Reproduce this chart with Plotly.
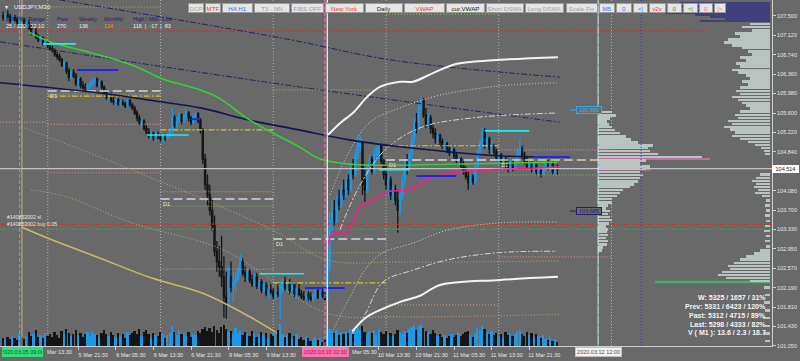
import plotly.graph_objects as go

# ------------------------------------------------------------------ data
first_bar = -16  # bar index of first candle (0 = 5 Mar 13:30, M30 bars)

bar_open = [
 107.50,107.46,107.52,107.48,107.40,107.46,107.42,107.36,107.44,107.40,107.34,
 107.36,107.26,107.16,107.20,107.08,107.02,107.06,106.96,106.98,106.90,
 106.86,106.82,106.74,106.70,106.64,106.54,106.58,106.42,106.30,106.40,
 106.32,106.18,106.26,106.14,106.10,106.08,106.12,106.18,106.22,106.26,
 106.14,106.20,106.10,106.00,105.90,105.96,105.84,105.82,105.86,105.78,
 105.80,105.78,105.74,105.84,105.76,105.70,105.60,105.50,105.40,105.44,
 105.30,105.22,105.16,105.20,105.12,105.18,105.12,105.10,105.14,105.10,
 105.16,105.26,105.50,105.36,105.48,105.56,105.44,105.54,105.60,105.50,
 105.42,105.54,105.58,105.46,105.26,104.70,104.20,104.00,103.70,103.40,
 102.90,102.70,102.60,102.40,102.00,101.90,102.40,102.20,102.30,102.36,
 102.50,102.70,102.48,102.40,102.50,102.34,102.26,102.40,102.22,102.30,
 102.14,102.24,102.08,102.14,102.10,102.02,102.10,102.06,102.22,102.30,
 102.18,102.28,102.14,102.24,102.08,102.16,102.06,102.02,101.98,102.06,
 102.00,101.96,102.04,102.12,102.00,102.10,102.02,101.96,102.60,103.50,
 103.70,103.50,103.90,103.80,104.10,104.00,104.30,104.10,104.50,104.40,
 104.80,104.96,105.00,104.30,104.10,104.50,104.70,104.46,104.80,104.76,
 104.96,104.66,104.40,104.20,104.30,104.00,104.10,103.90,103.70,104.00,
 104.30,104.60,104.50,104.80,105.10,105.40,105.30,105.70,105.84,105.56,
 105.40,105.50,105.30,105.20,105.10,105.16,105.04,104.96,105.00,104.90,
 104.82,104.88,104.76,104.66,104.70,104.56,104.46,104.36,104.24,104.34,
 104.26,104.56,104.84,105.00,105.24,105.00,105.10,104.90,104.96,104.84,
 104.72,104.78,104.64,104.70,104.58,104.52,104.64,104.54,104.66,104.84,
 104.90,104.76,104.66,104.56,104.60,104.50,104.58,104.46,104.50,104.42,
 104.50,104.60,104.56,104.60,104.46,104.52,
]
bar_high = [
 107.58,107.56,107.60,107.54,107.50,107.52,107.48,107.46,107.50,107.46,107.42,
 107.42,107.32,107.24,107.26,107.14,107.10,107.10,107.02,107.00,106.96,
 106.92,106.86,106.80,106.76,106.68,106.62,106.60,106.48,106.44,106.46,
 106.38,106.30,106.30,106.22,106.18,106.16,106.22,106.26,106.30,106.30,
 106.24,106.24,106.14,106.06,106.00,106.00,105.92,105.90,105.90,105.86,
 105.86,105.82,105.88,105.88,105.80,105.74,105.66,105.56,105.48,105.48,
 105.36,105.30,105.26,105.24,105.22,105.24,105.20,105.18,105.20,105.20,
 105.30,105.70,105.56,105.52,105.62,105.60,105.58,105.66,105.64,105.54,
 105.58,105.62,105.62,105.50,105.30,104.80,104.40,104.20,103.90,103.60,
 103.10,103.00,103.20,102.80,102.50,102.60,102.70,102.50,102.50,102.60,
 102.84,102.76,102.60,102.56,102.56,102.44,102.46,102.48,102.34,102.36,
 102.30,102.30,102.20,102.26,102.18,102.16,102.28,102.32,102.36,102.40,
 102.34,102.36,102.30,102.30,102.20,102.26,102.14,102.12,102.10,102.12,
 102.10,102.08,102.16,102.18,102.14,102.16,102.10,102.70,103.66,103.90,
 103.90,104.00,104.10,104.20,104.30,104.40,104.40,104.60,104.70,104.90,
 105.10,105.16,105.04,104.50,104.60,104.80,104.76,104.90,105.00,105.04,
 105.00,104.70,104.60,104.40,104.36,104.20,104.20,104.10,104.10,104.40,
 104.70,104.80,104.90,105.20,105.50,105.60,105.80,105.92,105.90,105.70,
 105.60,105.56,105.40,105.30,105.24,105.20,105.10,105.06,105.04,104.96,
 104.94,104.92,104.84,104.76,104.74,104.66,104.56,104.46,104.40,104.40,
 104.60,104.90,105.10,105.33,105.30,105.20,105.14,105.06,105.00,104.90,
 104.84,104.82,104.76,104.74,104.66,104.70,104.68,104.70,104.90,105.10,
 104.96,104.84,104.76,104.66,104.66,104.64,104.62,104.56,104.54,104.56,
 104.66,104.68,104.64,104.66,104.56,104.60,
]
bar_low = [
 107.40,107.42,107.44,107.36,107.34,107.38,107.32,107.30,107.36,107.30,107.28,
 107.22,107.12,107.08,107.04,106.98,106.96,106.92,106.88,106.86,106.82,
 106.78,106.70,106.64,106.60,106.50,106.46,106.36,106.22,106.26,106.28,
 106.12,106.10,106.08,106.04,106.02,106.02,106.08,106.12,106.16,106.10,
 106.10,106.06,105.96,105.86,105.84,105.80,105.76,105.74,105.74,105.72,
 105.74,105.70,105.72,105.72,105.66,105.56,105.44,105.36,105.30,105.26,
 105.16,105.10,105.08,105.06,105.04,105.08,105.04,105.02,105.06,105.06,
 105.12,105.20,105.30,105.30,105.40,105.38,105.40,105.48,105.44,105.36,
 105.38,105.46,105.40,105.20,104.60,104.10,103.80,103.60,103.30,102.80,
 102.50,102.40,102.20,101.60,101.58,101.80,102.10,101.90,102.10,102.30,
 102.46,102.42,102.30,102.30,102.28,102.20,102.22,102.16,102.10,102.08,
 102.08,102.02,101.98,102.06,101.96,101.94,102.00,101.56,102.10,102.12,
 102.10,102.06,102.04,102.00,101.98,102.02,101.96,101.94,101.92,101.94,
 101.92,101.90,101.98,101.96,101.94,101.98,101.90,101.94,102.50,103.30,
 103.40,103.44,103.70,103.74,103.90,103.96,104.00,104.06,104.30,104.36,
 104.70,104.84,104.00,103.86,104.04,104.40,104.40,104.40,104.66,104.70,
 104.60,104.30,104.10,104.00,103.90,103.84,103.80,103.26,103.60,103.90,
 104.20,104.40,104.46,104.70,105.00,105.20,105.26,105.60,105.50,105.30,
 105.30,105.20,105.10,105.00,105.00,104.96,104.90,104.84,104.82,104.76,
 104.74,104.70,104.60,104.56,104.50,104.40,104.30,104.10,104.20,104.20,
 104.22,104.50,104.76,104.96,104.90,104.90,104.80,104.80,104.76,104.66,
 104.60,104.56,104.56,104.50,104.44,104.46,104.46,104.50,104.60,104.74,
 104.70,104.60,104.50,104.46,104.44,104.42,104.40,104.36,104.34,104.38,
 104.46,104.48,104.46,104.40,104.36,104.40,
]
bar_close = [
 107.46,107.52,107.48,107.40,107.46,107.42,107.36,107.44,107.40,107.34,107.36,
 107.26,107.16,107.20,107.08,107.02,107.06,106.96,106.98,106.90,106.86,
 106.82,106.74,106.70,106.64,106.54,106.58,106.42,106.30,106.40,106.32,
 106.18,106.26,106.14,106.10,106.08,106.12,106.18,106.22,106.26,106.14,
 106.20,106.10,106.00,105.90,105.96,105.84,105.82,105.86,105.78,105.80,
 105.78,105.74,105.84,105.76,105.70,105.60,105.50,105.40,105.44,105.30,
 105.22,105.16,105.20,105.12,105.18,105.12,105.10,105.14,105.10,105.16,
 105.26,105.50,105.36,105.48,105.56,105.44,105.54,105.60,105.50,105.42,
 105.54,105.58,105.46,105.26,104.70,104.20,104.00,103.70,103.40,102.90,
 102.70,102.60,102.40,102.00,101.90,102.40,102.20,102.30,102.36,102.50,
 102.70,102.48,102.40,102.50,102.34,102.26,102.40,102.22,102.30,102.14,
 102.24,102.08,102.14,102.10,102.02,102.10,102.06,102.22,102.30,102.18,
 102.28,102.14,102.24,102.08,102.16,102.06,102.02,101.98,102.06,102.00,
 101.96,102.04,102.12,102.00,102.10,102.02,101.96,102.60,103.50,103.70,
 103.50,103.90,103.80,104.10,104.00,104.30,104.10,104.50,104.40,104.80,
 105.00,105.10,104.20,104.10,104.50,104.70,104.46,104.80,104.94,104.96,
 104.66,104.40,104.20,104.30,104.00,104.10,103.90,103.70,104.00,104.30,
 104.60,104.50,104.80,105.10,105.40,105.30,105.70,105.84,105.56,105.40,
 105.50,105.30,105.20,105.10,105.16,105.04,104.96,105.00,104.90,104.82,
 104.88,104.76,104.66,104.70,104.56,104.46,104.36,104.24,104.34,104.26,
 104.56,104.84,105.00,105.24,105.00,105.10,104.90,104.96,104.84,104.72,
 104.78,104.64,104.70,104.58,104.52,104.64,104.54,104.66,104.84,104.90,
 104.76,104.66,104.56,104.60,104.50,104.58,104.46,104.50,104.42,104.50,
 104.60,104.56,104.60,104.46,104.52,104.51,
]
bar_volume = [
 8,6,9,7,10,8,6,12,9,7,10,
 14,10,12,16,9,11,8,13,10,12,
 9,14,11,8,15,12,17,13,10,12,
 16,11,13,9,12,14,10,15,12,11,
 9,13,16,12,10,14,11,9,13,10,
 12,8,14,11,13,15,12,17,10,14,
 16,12,9,13,11,10,14,12,8,11,
 13,20,14,11,15,12,13,10,14,9,
 12,11,15,13,17,19,15,18,14,20,
 16,13,19,21,17,14,15,12,18,13,
 16,11,14,12,10,15,13,9,12,14,
 11,13,8,12,10,14,16,22,12,9,
 11,13,8,10,12,7,9,6,10,8,
 5,7,9,6,8,4,7,12,17,15,
 13,16,11,14,12,15,13,17,12,14,
 18,16,20,14,12,15,13,16,11,17,
 14,12,15,11,13,10,12,16,14,12,
 15,13,17,19,21,16,20,22,18,15,
 14,12,16,13,10,12,9,11,8,10,
 12,9,11,13,10,12,14,15,11,9,
 13,18,16,20,17,14,12,15,11,13,
 10,12,9,14,11,13,10,12,15,16,
 12,10,14,11,13,9,12,10,8,11,
 7,6,9,5,7,4,
]
bar_index = list(range(first_bar, first_bar + len(bar_close)))

time_tick_bars = [0, 16, 32, 48, 64, 80, 96, 112, 128, 144, 160, 176, 192, 208]
# labels partly hidden behind the time-marker boxes are shown the way the reference shows them
time_tick_labels = ["", "5 Mar 21:30", "6 Mar 05:30", "6 Mar 13:30",
                    "6 Mar 21:30", "9 Mar 05:30", "9 Mar 13:30", "",
                    "", "10 Mar 13:30", "10 Mar 21:30", "11 Mar 05:30",
                    "11 Mar 13:30", "11 Mar 21:30"]
partial_time_labels = [(45, "Mar 13:30"), (350, "Mar 05:30")]
price_ticks = [107.50, 107.12, 106.74, 106.36, 105.98, 105.60, 105.22, 104.84, 104.46,
               104.08, 103.70, 103.33, 102.95, 102.57, 102.19, 101.81, 101.43, 101.05]
price_tick_labels = ["%.3f" % p if p != 104.46 else "" for p in price_ticks]
current_price = 104.514

# indicator lines: (bar index list, price list)
sma_green_bars = [-5, 4, 17, 30, 42, 51, 68, 76, 89, 110, 119, 132, 153, 174, 196, 220]
sma_green_vals = [107.18, 106.99, 106.83, 106.67, 106.48, 106.28, 106.05, 105.89, 105.46,
                  104.94, 104.70, 104.60, 104.58, 104.60, 104.62, 104.64]
sma_navy_bars = [-17.3, 25, 51, 68, 89, 110, 132, 153, 174, 196, 220]
sma_navy_vals = [106.19, 105.99, 105.82, 105.70, 105.46, 105.27, 105.07, 104.94, 104.84, 104.76, 104.74]
khaki_bars = [-8, 5, 25, 47, 69, 89, 110]
khaki_vals = [103.37, 103.12, 102.77, 102.38, 102.08, 101.62, 101.03]
khaki_dot1_bars = [-8, 42, 99, 122, 153, 221]
khaki_dot1_vals = [105.33, 104.43, 103.31, 102.73, 102.69, 102.71]
khaki_dot2_bars = [-4, 11, 39, 78, 122, 153, 221]
khaki_dot2_vals = [104.10, 103.96, 103.45, 102.92, 101.69, 101.62, 101.67]
navy_dd1_bars = [-17.3, 110, 221]
navy_dd1_vals = [106.99, 106.11, 105.42]
navy_dd2_bars = [8, 103, 150, 221]
navy_dd2_vals = [107.81, 107.06, 106.63, 106.30]
vwap_bars = [122.3, 124.4, 130.4, 135.9, 138.9, 147.4, 155.9, 167, 178.5, 190, 209.6, 221.1]
vwap_vals = [103.02, 103.26, 103.28, 103.76, 103.84, 104.06, 104.10, 104.35, 104.45, 104.49, 104.52, 104.55]
band_hi_bars = [122.3, 127.4, 132.9, 138.9, 144.4, 153, 158.5, 167, 177.2, 192.5, 220.2]
band_hi_vals = [105.17, 105.40, 105.60, 105.91, 106.11, 106.21, 106.21, 106.38, 106.56, 106.63, 106.69]
band_lo_bars = [123.2, 127.4, 131.7, 138.9, 153, 161.5, 170, 195.6, 220.2]
band_lo_vals = [101.07, 101.17, 101.30, 101.62, 101.91, 102.03, 102.24, 102.34, 102.40]
up1_bars = [123.2, 131.7, 140.2, 153, 170, 195.6, 219.8]
up1_vals = [104.00, 104.88, 105.42, 105.70, 105.95, 106.13, 106.19]
up2_bars = [127.4, 135.9, 146.6, 161.5, 182.8, 219.8]
up2_vals = [103.32, 104.19, 104.88, 105.31, 105.50, 105.60]
lo1_bars = [124.5, 131.7, 138.9, 145.7, 158.5, 173, 194.3, 219.8]
lo1_vals = [101.36, 102.01, 102.59, 102.87, 103.06, 103.31, 103.45, 103.47]
lo2_bars = [129.5, 138, 145.7, 158.5, 173, 194.3, 219.8]
lo2_vals = [101.07, 101.66, 102.30, 102.53, 102.73, 102.87, 102.90]

# horizontal levels spanning the chart
trade_sl_price = 103.43
trade_entry_price = 103.33
upper_red_price = 107.20

# daily level segments: (start bar, end bar, price)
day_open_segs = [(3, 51, 106.03), (51, 99, 103.92), (99, 147, 103.14), (147, 195, 104.68)]
day_open_next = [(195, 243, 104.68)]
yellow_segs = [(3, 51, 105.93), (51, 99, 105.27), (99, 147, 102.28), (147, 195, 104.96)]
salmon_segs = [(-17.3, 3, 106.52), (-17.3, 3, 105.42), (3, 51, 105.38), (3, 51, 104.43),
               (51, 99, 104.06), (51, 99, 102.55), (147, 195, 101.85), (195, 243, 104.88),
               (195, 243, 102.79)]
green_dot_segs = [(3, 51, 105.97), (51, 99, 103.78), (99, 147, 106.05), (99, 147, 102.87),
                  (195, 243, 104.39), (3, 51, 107.67), (147, 195, 107.53)]
cyan_segs = [(1, 15, 106.95), (45, 63, 105.17), (93, 112, 102.46), (144, 157, 104.49), (189, 208, 105.25)]
blue_segs = [(15.5, 33, 106.44), (64, 68, 105.48), (112.5, 129.5, 102.18), (160, 177, 104.37), (209.6, 225.4, 104.74)]
pink_segs = [(237.3, 284.9, 104.70), (237.3, 259.5, 104.49)]
green_thick_segs = [(261.5, 310.5, 102.30)]
d1_label_points = [(3, 106.03), (51, 103.92), (99, 103.14), (147, 104.68), (195, 104.68)]

separator_bars = [3, 51, 99, 147, 195, 243]
start_bar = -9        # 2020.03.05 09:00
anchor_bar = 121      # 2020.03.10 02:00
future_bar = 237.3    # 2020.03.12 12:00

# volume profiles (price, length in px)
profile_left_prices = [105.62, 105.56, 105.50, 105.44, 105.38, 105.33, 105.27, 105.21, 105.15, 105.09,
                       105.03, 104.97, 104.92, 104.86, 104.80, 104.74, 104.68, 104.62, 104.56, 104.51,
                       104.45, 104.39, 104.33, 104.27, 104.21, 104.16, 104.10, 104.04, 103.98, 103.92,
                       103.86, 103.80, 103.74, 103.69, 103.63, 103.57, 103.51, 103.45, 103.39, 103.33,
                       103.28, 103.22, 103.16, 103.10, 103.04, 102.98, 102.92]
profile_left_len = [14, 18, 12, 9, 11, 14, 17, 22, 28, 33, 40, 55, 50, 52, 60, 104, 48, 42, 52, 48,
                    42, 45, 42, 40, 36, 32, 25, 22, 19, 14, 14, 10, 8, 12, 10, 12, 14, 11, 8, 10,
                    9, 10, 8, 10, 9, 5, 4]
profile_right_prices = [107.46, 107.40, 107.34, 107.28, 107.22, 107.16, 107.10, 107.04, 106.98, 106.92,
                        106.87, 106.81, 106.75, 106.69, 106.63, 106.57, 106.51, 106.45, 106.40, 106.34,
                        106.28, 106.22, 106.16, 106.10, 106.04, 105.98, 105.92, 105.86, 105.80, 105.75,
                        105.69, 105.63, 105.57, 105.51, 105.45, 105.39, 105.33, 105.28, 105.22, 105.16,
                        105.10, 105.04, 104.98, 104.92, 104.86, 104.80,
                        104.40, 104.34, 104.28, 104.22, 104.16, 104.10, 104.04, 103.98,
                        103.90, 103.80, 103.70, 103.60, 103.50, 103.40, 103.30, 103.20, 103.10, 103.00,
                        102.92, 102.86, 102.80, 102.74, 102.68, 102.62, 102.56, 102.50, 102.44, 102.38,
                        102.32, 102.20, 102.05, 101.90, 101.75, 101.60, 101.45, 101.30, 101.15]
profile_right_len = [8, 15, 20, 28, 18, 35, 30, 42, 46, 38, 28, 22, 18, 30, 24, 34, 30, 38, 32, 24,
                     20, 28, 22, 30, 34, 30, 38, 32, 28, 24, 20, 30, 35, 32, 42, 38, 46, 40, 35, 38,
                     30, 22, 15, 9, 6, 5,
                     10, 14, 18, 14, 16, 12, 15, 8,
                     4, 5, 4, 5, 4, 5, 6, 4, 5, 4,
                     10, 16, 24, 30, 36, 42, 40, 48, 52, 44,
                     20, 6, 5, 6, 5, 7, 5, 6, 5]
profile_top_prices = [107.75, 107.71, 107.67, 107.63, 107.59, 107.55, 107.51, 107.47, 107.43, 107.39]
profile_top_len = [90, 70, 100, 60, 80, 105, 75, 60, 45, 70]

# ------------------------------------------------------------------ figure
BG = "#696969"
UP = "#1c98e6"
DN = "#151515"
FONT = "Liberation Sans"
X_RANGE = [-17.33, 311.33]
Y_RANGE = [101.049, 107.807]
PW, PH = 772.0, 346.0


def px(x):
    return x / PW


def py(y):
    return 1 - y / PH


fig = go.Figure()


def line_tr(xs, ys, color, width=1, dash="solid", shape="linear"):
    fig.add_trace(go.Scatter(x=xs, y=ys, mode="lines", hoverinfo="skip", showlegend=False,
                             line=dict(color=color, width=width, dash=dash, shape=shape)))


def seg_tr(segs, color, width=1, dash="solid"):
    xs, ys = [], []
    for a, b, p in segs:
        xs += [a, b, None]
        ys += [p, p, None]
    line_tr(xs, ys, color, width, dash)


DOT = "1px,2px"
DASHDOT = "6px,2px,2px,2px"
LONGDASH = "9px,4px"

# full-width horizontal levels
seg_tr([(X_RANGE[0], X_RANGE[1] - 27, upper_red_price)], "#e02828", 1, DASHDOT)
seg_tr([(X_RANGE[0], X_RANGE[1], trade_sl_price)], "#e02828", 1.2, DASHDOT)
seg_tr([(X_RANGE[0], X_RANGE[1], trade_entry_price)], "#3a9a50", 1.5, DASHDOT)
seg_tr([(X_RANGE[0], X_RANGE[1], current_price)], "#c4c4c4", 1.2)

# daily levels
seg_tr(salmon_segs, "#e09a80", 1, DOT)
seg_tr(green_dot_segs, "#8fbf6a", 1, DOT)
seg_tr(yellow_segs, "#d8c820", 1.2, DASHDOT)
seg_tr(day_open_segs, "#d8d8d8", 1.5, LONGDASH)
seg_tr(day_open_next, "#d8d0a8", 1.5, LONGDASH)

# candles
fig.add_trace(go.Candlestick(
    x=bar_index, open=bar_open, high=bar_high, low=bar_low, close=bar_close,
    increasing=dict(line=dict(color=UP, width=1.3), fillcolor=UP),
    decreasing=dict(line=dict(color=DN, width=1.3), fillcolor=DN),
    whiskerwidth=0, hoverinfo="skip", showlegend=False))

# indicator curves
line_tr(khaki_dot1_bars, khaki_dot1_vals, "#bdb272", 1, DOT, "spline")
line_tr(khaki_dot2_bars, khaki_dot2_vals, "#bdb272", 1, DOT, "spline")
line_tr(navy_dd1_bars, navy_dd1_vals, "#22225e", 1, DASHDOT, "spline")
line_tr(navy_dd2_bars, navy_dd2_vals, "#22225e", 1, DASHDOT, "spline")
line_tr(up1_bars, up1_vals, "#d6d6d6", 1, DOT, "spline")
line_tr(up2_bars, up2_vals, "#d6d6d6", 1, DASHDOT, "spline")
line_tr(lo1_bars, lo1_vals, "#d6d6d6", 1, DOT, "spline")
line_tr(lo2_bars, lo2_vals, "#d6d6d6", 1, DASHDOT, "spline")
line_tr(khaki_bars, khaki_vals, "#c9b96a", 1.6, "solid", "spline")
line_tr(sma_navy_bars, sma_navy_vals, "#141450", 1.6, "solid", "spline")
line_tr(sma_green_bars, sma_green_vals, "#36d236", 1.5, "solid", "spline")
line_tr(vwap_bars, vwap_vals, "#ff1a8c", 1.6, "solid", "spline")
line_tr(band_hi_bars, band_hi_vals, "#eef6f6", 2, "solid", "spline")
line_tr(band_lo_bars, band_lo_vals, "#eef6f6", 2, "solid", "spline")
seg_tr(cyan_segs, "#18f0f0", 1.6)
seg_tr(blue_segs, "#2424f0", 2)
seg_tr(pink_segs, "#e070b0", 1.5)
seg_tr(green_thick_segs, "#3cb371", 2.5)

# volume histogram (own axis)
vol_colors = [UP if c >= o else DN for o, c in zip(bar_open, bar_close)]
fig.add_trace(go.Bar(x=bar_index, y=bar_volume, xaxis="x", yaxis="y2", width=0.75,
                     marker=dict(color=vol_colors, line=dict(width=0)),
                     hoverinfo="skip", showlegend=False))

# volume profiles (pixel x-axis)
fig.add_trace(go.Bar(y=profile_left_prices, x=profile_left_len, base=598, orientation="h",
                     xaxis="x2", yaxis="y", width=0.038,
                     marker=dict(color="#b9c3c0", line=dict(width=0)), hoverinfo="skip", showlegend=False))
fig.add_trace(go.Bar(y=profile_right_prices, x=[-v for v in profile_right_len], base=770, orientation="h",
                     xaxis="x2", yaxis="y", width=0.038,
                     marker=dict(color="#b9c3c0", line=dict(width=0)), hoverinfo="skip", showlegend=False))
fig.add_trace(go.Bar(y=profile_top_prices, x=[-v for v in profile_top_len], base=770, orientation="h",
                     xaxis="x2", yaxis="y", width=0.025,
                     marker=dict(color="#40407a", line=dict(width=0)), hoverinfo="skip", showlegend=False))

# vertical lines
shapes = []


def vline(i, color, width=1, dash="solid", layer="below"):
    shapes.append(dict(type="line", xref="x", yref="paper", x0=i, x1=i, y0=0, y1=1,
                       line=dict(color=color, width=width, dash=dash), layer=layer))


for b in separator_bars:
    vline(b, "#b4b4b4", 1, DOT)
vline(start_bar, "#44d07a", 1, "4px,2px", "above")
vline(start_bar + 1, "#c8b870", 1, "solid", "above")
vline(anchor_bar, "#ff6aa8", 1, "4px,2px", "above")
vline(anchor_bar + 1, "#f4f4f4", 1.2, "solid", "above")
vline(future_bar, "#dfe8e8", 1, "solid", "above")
vline(future_bar, "#20b0b0", 1, "2px,8px", "above")
vline(255.6, "#3030e0", 1, DOT, "above")

# ------------------------------------------------------------------ annotations
ann = []


def text(x, y, s, size=5.5, color="#f0f0f0", xanchor="left", bold=False, **kw):
    if bold:
        s = "<b>" + s + "</b>"
    d = dict(xref="paper", yref="paper", x=px(x), y=py(y), text=s, showarrow=False,
             xanchor=xanchor, yanchor="middle", font=dict(size=size, color=color, family=FONT))
    d.update(kw)
    ann.append(d)


def box(x0, x1, yc, s, fg, bg, border, size=6.2, h=8):
    ann.append(dict(xref="paper", yref="paper", x=px((x0 + x1) / 2.0), y=py(yc), text=s,
                    showarrow=False, xanchor="center", yanchor="middle",
                    width=x1 - x0 - 2, height=h, bgcolor=bg, bordercolor=border,
                    borderwidth=1, borderpad=0, font=dict(size=size, color=fg, family=FONT)))


buttons = [
    (188, 204, "DCP", "#a8a8a8"), (205, 221, "MTF", "#ff2a2a"), (222, 253, "HA H1", "#2f6cff"),
    (254, 290, "T3 - NN", "#9a9a9a"), (291, 324, "FIBS OFF", "#9a9a9a"), (325, 364, "New York", "#ff2a2a"),
    (365, 403, "Daily", "#2a2a2a"), (404, 445, "VWAP", "#ff2a2a"), (446, 485, "cur.VWAP", "#1a1a1a"),
    (486, 524, "Short DSMA", "#a0a0a0"), (525, 564, "Long DSMA", "#a0a0a0"), (566, 598, "Scale Fix", "#a0a0a0"),
    (599, 615, "M5", "#2f6cff"), (616, 632, "0", "#2f6cff"), (633, 648, "&lt;|", "#2f6cff"),
    (649, 666, "v2v", "#ff2a2a"), (667, 682, "0", "#22a022"), (683, 698, "&lt;|", "#22a022"),
    (699, 713, "0", "#ff55c0"), (714, 726, "|&gt;", "#ff55c0"),
]
for x0, x1, s, c in buttons:
    box(x0, x1, 7.5, s, c, "#e6e6e6", "#9a9a9a", 6.2, 8)

# top-left info
text(12, 7, "USDJPY,M30", 6, "#f4f4f4")
ann.append(dict(xref="paper", yref="paper", x=px(3), y=py(7), text="▾", showarrow=False,
                xanchor="left", yanchor="middle", font=dict(size=6, color="#f4f4f4", family=FONT)))
navy = "#1c1c70"
text(4, 19, "DR / Hi / Range", 5.5, navy)
text(55, 19, "Prev", 5.5, navy)
text(77, 19, "Weekly", 5.5, navy)
text(102, 19, "Monthly", 5.5, navy)
text(131, 19, "High / Mid / Low", 5.5, navy)
text(4, 26, "25 / 120 / 22:10", 5.5, "#f0f0f0")
text(55, 26, "270", 5.5, "#f0f0f0")
text(77, 26, "136", 5.5, "#f0f0f0")
text(102, 26, "124", 5.5, "#f0a020")
text(131, 26, "116  |  -17  |  83", 5.5, "#f0f0f0")

# trade labels
text(5, 217, "#140853002 sl", 5.2, "#e8e8e8")
text(5, 224, "#140853002 buy 0.05", 5.2, "#e8e8e8")

# D1 labels
for b, p in d1_label_points:
    ann.append(dict(xref="x", yref="y", x=b + 0.3, y=p, text="D1", showarrow=False,
                    xanchor="left", yanchor="top", font=dict(size=5.5, color="#ecead0", family=FONT)))

# bottom-right info panel
info_lines = ["W: 5325 / 1657 / 31%", "Prev: 5331 / 6423 / 120%", "Past: 5312 / 4715 / 89%",
              "Last: 5298 / 4333 / 82%", "V ( M1 ): 13.6 / 2.3 / 18.7"]
for k, s in enumerate(info_lines):
    text(768, 297 + 9 * k, s, 7, "#f6f6f6", "right", bold=True)

# partially covered time labels
for x, s in partial_time_labels:
    text(x, 352.5, s, 5.5, "#e8e8e8")

# price tags
box(576, 602, 110, "105.666", "#44b4ec", "#6a6a6a", "#3aa8e0", 5.5, 6)
box(576, 602, 211, "103.685", "#22226a", "#6a6a6a", "#22226a", 5.5, 6)
box(772, 799, 169, "104.514", "#202020", "#ffffff", "#ffffff", 5.5, 6)
shapes.append(dict(type="line", xref="paper", yref="paper", x0=px(570), x1=px(576), y0=py(110), y1=py(110),
                   line=dict(color="#3aa8e0", width=1)))
shapes.append(dict(type="line", xref="paper", yref="paper", x0=px(570), x1=px(576), y0=py(211), y1=py(211),
                   line=dict(color="#22226a", width=1)))

# time boxes on the time axis
box(2, 43, 352, "2020.03.05 09:00", "#0d5a26", "#2ee07a", "#2ee07a", 5.5, 8)
box(302, 349, 352, "2020.03.10 02:00", "#9a1a50", "#ff70b0", "#ff70b0", 5.5, 8)
box(575, 622, 352, "2020.03.12 12:00", "#505050", "#f2f2f2", "#c0c0c0", 5.5, 8)

fig.update_layout(
    width=800, height=361, autosize=False,
    margin=dict(l=0, r=28, t=0, b=15, pad=0),
    paper_bgcolor=BG, plot_bgcolor=BG,
    font=dict(family=FONT, size=6, color="#e8e8e8"),
    showlegend=False, barmode="overlay", bargap=0,
    shapes=shapes, annotations=ann,
    xaxis=dict(range=X_RANGE, tickmode="array", tickvals=time_tick_bars, ticktext=time_tick_labels,
               ticks="outside", ticklen=3, tickcolor="#d0d0d0", showgrid=False, zeroline=False,
               showline=True, linecolor="#cfcfcf", linewidth=1, mirror=True,
               tickfont=dict(size=5.5, color="#e8e8e8", family=FONT), ticklabelshift=15,
               rangeslider=dict(visible=False), automargin=False, fixedrange=True),
    yaxis=dict(range=Y_RANGE, side="right", tickmode="array", tickvals=price_ticks,
               ticktext=price_tick_labels, ticks="outside", ticklen=3, tickcolor="#d0d0d0",
               showgrid=False, zeroline=False, showline=True, linecolor="#cfcfcf", linewidth=1,
               mirror=True, tickfont=dict(size=5.5, color="#e8e8e8", family=FONT),
               automargin=False, fixedrange=True),
    xaxis2=dict(range=[0, PW], overlaying="x", visible=False, fixedrange=True),
    yaxis2=dict(range=[0, PH], overlaying="y", visible=False, fixedrange=True),
)

fig.write_html("out.html")
